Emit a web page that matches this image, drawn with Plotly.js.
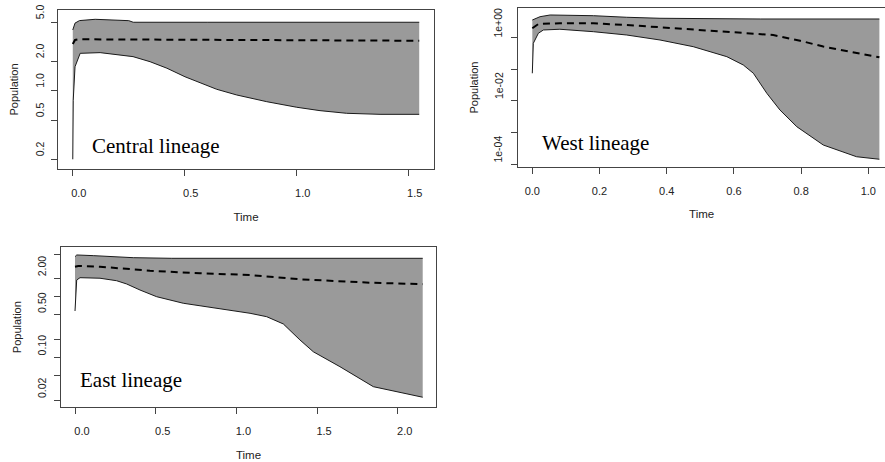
<!DOCTYPE html>
<html><head><meta charset="utf-8">
<script src="https://cdn.plot.ly/plotly-3.0.1.min.js"></script>
<style>html,body{margin:0;padding:0;background:#fff;overflow:hidden}#chart{width:885px;height:462px}</style>
</head><body><div id="chart"></div>
<script>
// ---------- Central lineage ----------
const centralUpperTime = [0, 0.01, 0.03, 0.10, 0.25, 0.27, 0.6, 1.0, 1.547];
const centralUpper     = [4.17, 4.9, 5.2, 5.36, 5.19, 5.0, 5.0, 5.0, 5.0];
const centralMedTime   = [0, 0.01, 0.03, 0.5, 1.0, 1.547];
const centralMed       = [3.0, 3.3, 3.35, 3.3, 3.27, 3.24];
const centralLowerTime = [0, 0.002, 0.010, 0.033, 0.122, 0.269, 0.345, 0.42, 0.501, 0.569, 0.643, 0.732, 0.866, 1.0, 1.104, 1.223, 1.372, 1.547];
const centralLower     = [0.2, 0.8, 1.76, 2.41, 2.45, 2.23, 1.98, 1.70, 1.39, 1.21, 1.035, 0.906, 0.774, 0.679, 0.627, 0.589, 0.575, 0.575];

// ---------- West lineage ----------
const westUpperTime = [0, 0.023, 0.053, 0.082, 0.182, 0.281, 0.38, 0.68, 1.033];
const westUpper     = [3.5, 4.45, 5.04, 5.04, 4.79, 4.27, 3.97, 3.77, 3.77];
const westMedTime   = [0, 0.018, 0.082, 0.182, 0.281, 0.38, 0.479, 0.579, 0.717, 0.797, 0.866, 0.946, 1.033];
const westMed       = [1.92, 2.62, 2.76, 2.76, 2.44, 2.07, 1.79, 1.44, 1.18, 0.78, 0.51, 0.35, 0.234];
const westLowerTime = [0, 0.003, 0.018, 0.033, 0.082, 0.182, 0.281, 0.38, 0.479, 0.579, 0.628, 0.658, 0.698, 0.737, 0.787, 0.866, 0.965, 1.033];
const westLower     = [0.0735, 0.647, 1.34, 1.70, 1.79, 1.50, 1.18, 0.822, 0.506, 0.245, 0.134, 0.0735, 0.0172, 0.00513, 0.00153, 0.000405, 0.000173, 0.000144];

// ---------- East lineage ----------
const eastUpperTime = [0, 0.011, 0.113, 0.361, 0.6, 2.155];
const eastUpper     = [4.52, 4.82, 4.70, 4.35, 4.25, 4.25];
const eastMedTime   = [0, 0.02, 0.155, 0.465, 0.775, 1.085, 1.394, 1.601, 1.828, 2.155];
const eastMed       = [3.09, 3.18, 3.09, 2.66, 2.41, 2.26, 1.92, 1.80, 1.69, 1.60];
const eastLowerTime = [0, 0.0105, 0.031, 0.155, 0.258, 0.32, 0.403, 0.506, 0.671, 0.878, 1.085, 1.188, 1.291, 1.394, 1.477, 1.642, 1.849, 2.155];
const eastLower     = [0.579, 1.87, 2.04, 2.0, 1.82, 1.61, 1.28, 0.995, 0.776, 0.642, 0.531, 0.467, 0.355, 0.194, 0.124, 0.0705, 0.0331, 0.0222];

// ---------- ticks ----------
const centralXTicks = [0, 0.5, 1.0, 1.5];
const centralXText  = ["0.0", "0.5", "1.0", "1.5"];
const centralYTicks = [0.2, 0.5, 1, 2, 5];
const centralYText  = ["0.2", "0.5", "1.0", "2.0", "5.0"];
const westXTicks = [0, 0.2, 0.4, 0.6, 0.8, 1.0];
const westXText  = ["0.0", "0.2", "0.4", "0.6", "0.8", "1.0"];
const westYTicks = [1, 0.1, 0.01, 0.001, 0.0001];
const westYText  = ["1e+00", "", "1e-02", "", "1e-04"];
const eastXTicks = [0, 0.5, 1.0, 1.5, 2.0];
const eastXText  = ["0.0", "0.5", "1.0", "1.5", "2.0"];
const eastYTicks = [5, 2, 1, 0.5, 0.2, 0.1, 0.05, 0.02];
const eastYText  = ["", "2.00", "", "0.50", "", "0.10", "", "0.02"];

const panelLabels = ["Central lineage", "West lineage", "East lineage"];

const FILL = '#9a9a9a';
const LINE = '#1a1a1a';
const SANS = '"Liberation Sans", Arial, sans-serif';
const SERIF = '"Liberation Serif", "Times New Roman", serif';

function band(xs, ys, xa, ya) {
  return {x: xs, y: ys, xaxis: xa, yaxis: ya, type: 'scatter', mode: 'lines',
          line: {color: LINE, width: 1}, hoverinfo: 'skip'};
}
function lowerBand(xs, ys, xa, ya) {
  const t = band(xs, ys, xa, ya); t.fill = 'tonexty'; t.fillcolor = FILL; return t;
}
function median(xs, ys, xa, ya) {
  return {x: xs, y: ys, xaxis: xa, yaxis: ya, type: 'scatter', mode: 'lines',
          line: {color: '#000', width: 2, dash: '7px,5px'}, hoverinfo: 'skip'};
}

const data = [
  band(centralUpperTime, centralUpper, 'x', 'y'),
  lowerBand(centralLowerTime, centralLower, 'x', 'y'),
  median(centralMedTime, centralMed, 'x', 'y'),
  band(westUpperTime, westUpper, 'x2', 'y2'),
  lowerBand(westLowerTime, westLower, 'x2', 'y2'),
  median(westMedTime, westMed, 'x2', 'y2'),
  band(eastUpperTime, eastUpper, 'x3', 'y3'),
  lowerBand(eastLowerTime, eastLower, 'x3', 'y3'),
  median(eastMedTime, eastMed, 'x3', 'y3')
];

const W = 885, H = 462;
const px = p => p / W, py = p => 1 - p / H;

function xAxis(domain, range, anchor, vals, text, shift) {
  return {domain: domain, range: range, anchor: anchor, type: 'linear',
    showline: true, linecolor: '#444', linewidth: 1, mirror: true,
    ticks: 'outside', ticklen: 6, tickcolor: '#444', tickwidth: 1,
    tickvals: vals, ticktext: text, showgrid: false, zeroline: false,
    tickfont: {family: SANS, size: 11, color: '#222'},
    ticklabelshift: shift, ticklabelstandoff: 8,
    title: {text: 'Time', font: {family: SANS, size: 11.5, color: '#222'}, standoff: 14},
    fixedrange: true};
}
function yAxis(domain, range, anchor, vals, mirror) {
  return {domain: domain, range: range, anchor: anchor, type: 'log',
    showline: true, linecolor: '#444', linewidth: 1, mirror: mirror,
    ticks: 'outside', ticklen: 6, tickcolor: '#444', tickwidth: 1,
    tickvals: vals, showticklabels: false, showgrid: false, zeroline: false,
    title: {text: 'Population', font: {family: SANS, size: 11, color: '#222'}, standoff: 30},
    fixedrange: true};
}

// y tick labels (rotated, placed at the tick values of each axis)
function yLabels(vals, text, xref, yref, xshift, yshift) {
  return vals.map((v, i) => ({
    text: text[i], xref: xref, yref: yref, x: 0, y: Math.log10(v),
    xanchor: 'right', yanchor: 'middle', xshift: xshift, yshift: yshift,
    textangle: -90, showarrow: false,
    font: {family: SANS, size: 10.5, color: '#222'}
  })).filter(a => a.text !== "");
}

const panelAnnotations = [
  {text: panelLabels[0], xref: 'paper', yref: 'paper', x: px(90), y: py(146), xanchor: 'left', yanchor: 'middle', showarrow: false, font: {family: SERIF, size: 21, color: '#000'}},
  {text: panelLabels[1], xref: 'paper', yref: 'paper', x: px(540), y: py(143.5), xanchor: 'left', yanchor: 'middle', showarrow: false, font: {family: SERIF, size: 21, color: '#000'}},
  {text: panelLabels[2], xref: 'paper', yref: 'paper', x: px(78), y: py(380), xanchor: 'left', yanchor: 'middle', showarrow: false, font: {family: SERIF, size: 21, color: '#000'}}
];

const layout = {
  width: W, height: H, margin: {l: 0, r: 0, t: 0, b: 0},
  paper_bgcolor: '#fff', plot_bgcolor: '#fff', showlegend: false, hovermode: false,
  xaxis:  xAxis([px(58), px(434)], [-0.066, 1.613], 'y', centralXTicks, centralXText, 6),
  yaxis:  yAxis([py(169), py(10)], [-0.798, 0.824], 'x', centralYTicks, true),
  xaxis2: xAxis([px(518.3), 1], [-0.0417, 1.0497], 'y2', westXTicks, westXText, 7.5),
  yaxis2: yAxis([py(166.7), py(8.3)], [-4.076, 0.913], 'x2', westYTicks, false),
  xaxis3: xAxis([px(61), px(436)], [-0.0868, 2.2374], 'y3', eastXTicks, eastXText, 7),
  yaxis3: yAxis([py(407), py(247.3)], [-1.814, 0.809], 'x3', eastYTicks, true),
  annotations: panelAnnotations
    .concat(yLabels(centralYTicks, centralYText, 'x domain', 'y', -10, 10))
    .concat(yLabels(westYTicks, westYText, 'x2 domain', 'y2', -12, 15))
    .concat(yLabels(eastYTicks, eastYText, 'x3 domain', 'y3', -11, 12))
};

Plotly.newPlot('chart', data, layout, {staticPlot: true, displayModeBar: false});
</script>
</body></html>
